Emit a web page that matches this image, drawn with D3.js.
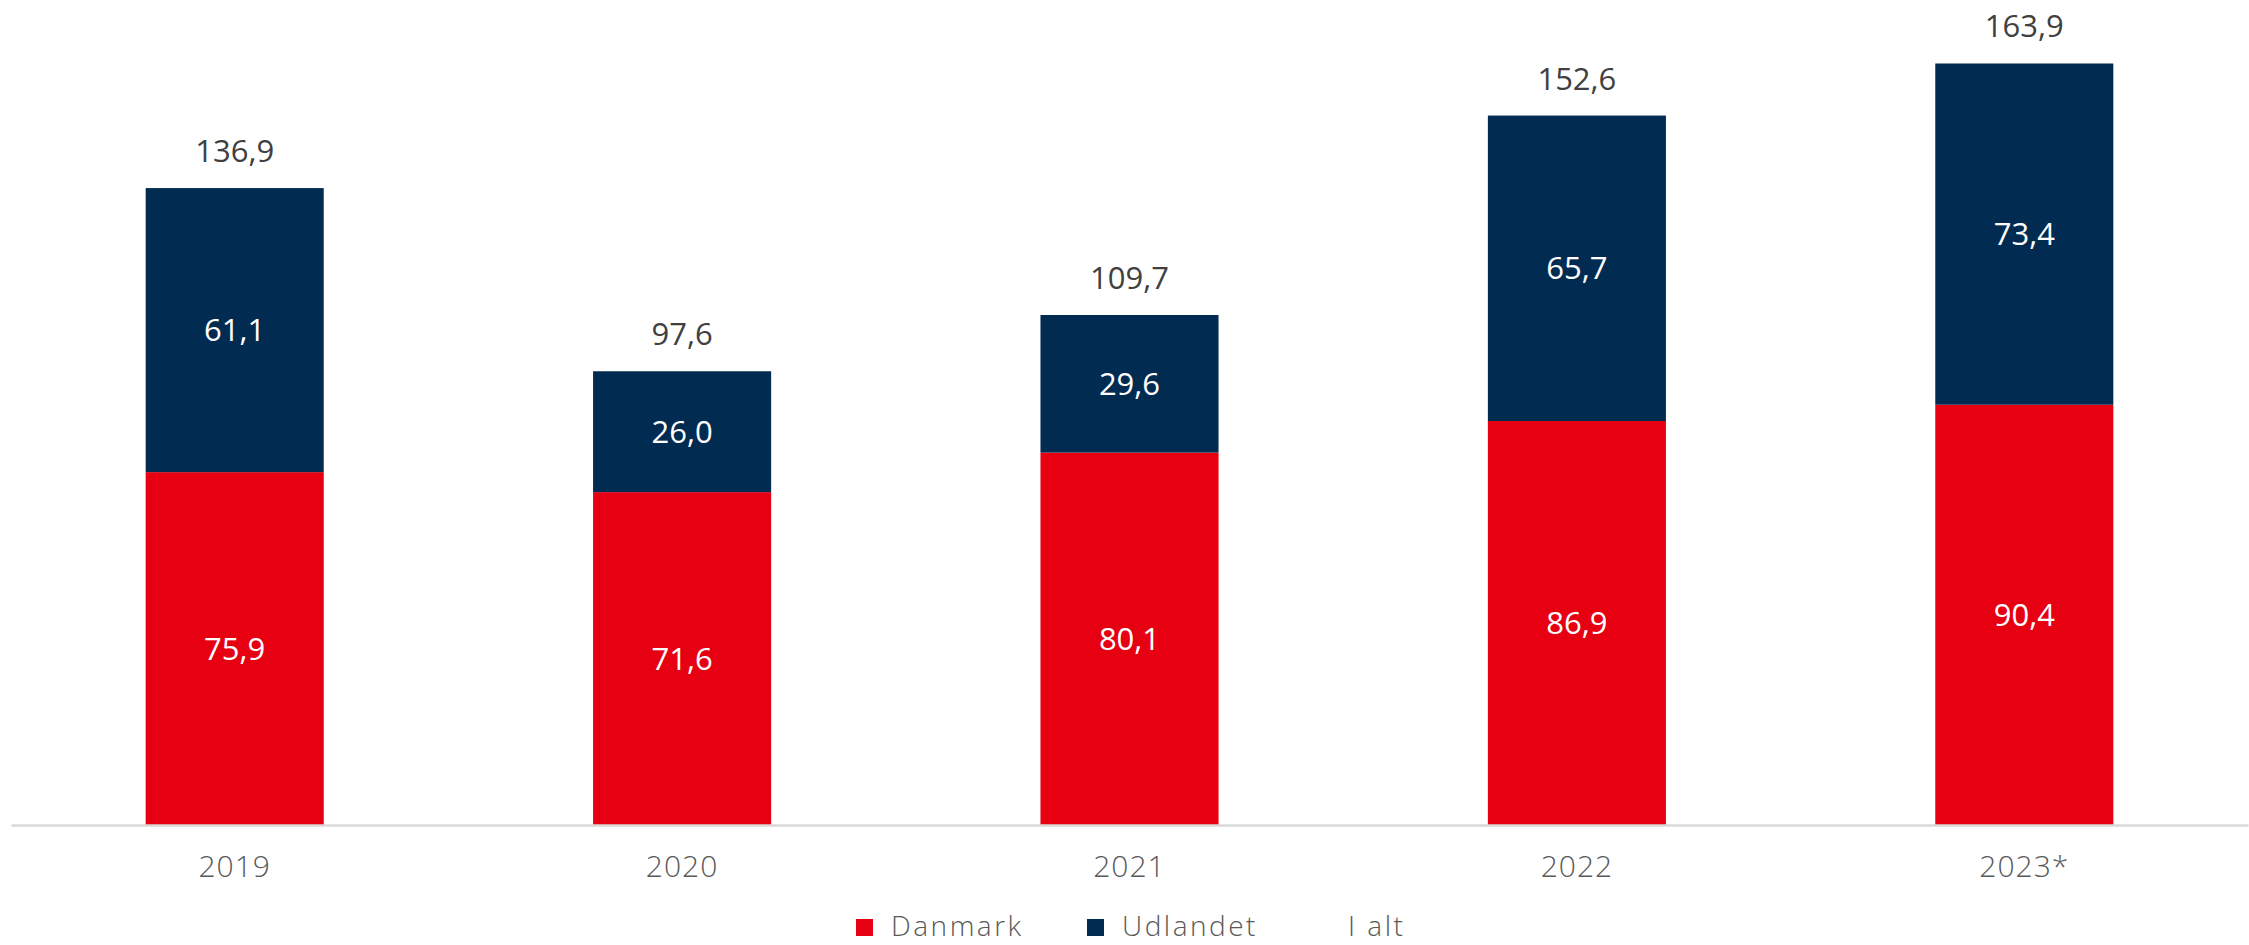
<!DOCTYPE html>
<html><head><meta charset="utf-8">
<script src="https://cdn.jsdelivr.net/npm/d3@7"></script>
<style>
html,body{margin:0;padding:0;background:#fff;}
svg{display:block;}
</style></head>
<body>
<svg id="chart" width="2249" height="945"></svg>
<script>
const categories = ["2019","2020","2021","2022","2023*"];
const danmark  = [75.9, 71.6, 80.1, 86.9, 90.4];
const udlandet = [61.1, 26.0, 29.6, 65.7, 73.4];
const iAlt     = [136.9, 97.6, 109.7, 152.6, 163.9];
const seriesNames = ["Danmark","Udlandet","I alt"];
const colors = {"Danmark":"#E60012","Udlandet":"#022B51"};

const fmt = v => d3.format(".1f")(v).replace(".", ",");
const FONT = "'Open Sans', Lato, sans-serif";

const svg = d3.select("#chart");
const x = d3.scaleBand().domain(categories).range([11, 2248]).paddingInner(0.602).paddingOuter(0.301);
const y = d3.scaleLinear().domain([0, 170]).range([825, 825 - 170*4.649]);

const rows = categories.map((c,i)=>({cat:c, Danmark:danmark[i], Udlandet:udlandet[i], total:iAlt[i]}));
const stack = d3.stack().keys(["Danmark","Udlandet"])(rows);

const g = svg.append("g");
stack.forEach(layer=>{
  const key = layer.key;
  g.selectAll(null).data(layer).enter().append("rect")
    .attr("x", d=>x(d.data.cat))
    .attr("width", x.bandwidth())
    .attr("y", d=>y(d[1]))
    .attr("height", d=>y(d[0])-y(d[1]))
    .attr("fill", colors[key]);
  g.selectAll(null).data(layer).enter().append("text")
    .attr("x", d=>x(d.data.cat)+x.bandwidth()/2)
    .attr("y", d=>(y(d[0])+y(d[1]))/2)
    .attr("dy", "0.36em")
    .attr("text-anchor","middle")
    .attr("fill","#ffffff")
    .style("font-family", FONT)
    .style("font-size","31px")
    .text(d=>fmt(d.data[key]));
});

// totals (I alt)
g.selectAll(null).data(rows).enter().append("text")
  .attr("x", d=>x(d.cat)+x.bandwidth()/2)
  .attr("y", d=>y(d.Danmark + d.Udlandet) - 26)
  .attr("text-anchor","middle")
  .attr("fill","#404040")
  .style("font-family", FONT)
  .style("font-size","31px")
  .text(d=>fmt(d.total));

// x axis
const ax = svg.append("g").attr("transform","translate(0,825)")
  .call(d3.axisBottom(x).tickSize(0).tickPadding(0));
ax.select(".domain").attr("stroke","#D9D9D9").attr("stroke-width",2.5);
ax.selectAll(".tick text")
  .attr("y", 52).attr("dy", null)
  .attr("fill","#595959")
  .style("font-family", FONT)
  .style("font-weight","300")
  .style("font-size","30px")
  .style("letter-spacing","1px");

// legend
const legendX = [856, 1087, 1316];
const lg = svg.append("g");
seriesNames.forEach((s,i)=>{
  const item = lg.append("g").attr("transform",`translate(${legendX[i]},0)`);
  item.append("rect").attr("x",0).attr("y",919).attr("width",17).attr("height",17)
    .attr("fill", colors[s] || "none");
  item.append("text").attr("x", i===2 ? 32 : 35).attr("y", 936)
    .attr("fill","#595959")
    .style("font-family", FONT)
    .style("font-weight","300")
    .style("font-size","28px")
    .style("letter-spacing","2.5px")
    .text(s);
});
</script>
</body></html>
